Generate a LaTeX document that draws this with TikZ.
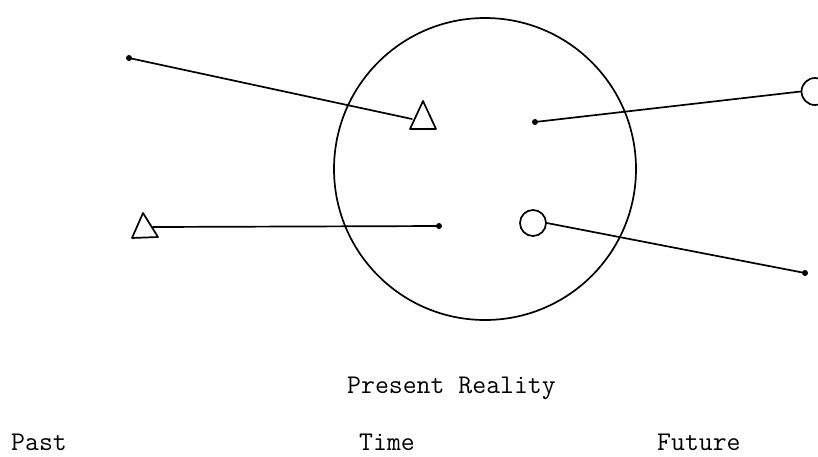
\documentclass[tikz,border=0pt]{standalone}
\usetikzlibrary{calc}
\begin{document}
\begin{tikzpicture}[x=1pt,y=-1pt,
  ink/.style={line width=1.7pt,line join=round,line cap=round},
  dotend/.style={circle,fill=black,inner sep=0pt,minimum size=6pt},
  ring/.style={circle,draw,line width=1.7pt,inner sep=0pt},
  label/.style={inner sep=0pt,anchor=base west,font=\ttfamily\fontsize{27}{30}\selectfont}]
\useasboundingbox (0,0) rectangle (818,456);
% big circle
\draw[ink] (485,169) circle (151);
% upper left: dot to triangle
\node[dotend] (d1) at (129,58) {};
\coordinate (t1) at (412,119);
\draw[ink] (d1.center) -- (t1);
\draw[ink] (423,101) -- (410,129) -- (436,129) -- cycle;
% upper right: dot to open circle
\node[dotend] (d2) at (535,122) {};
\node[ring,minimum size=27pt] (c1) at (815,91.5) {};
\draw[ink] (d2.center) -- (c1.west);
% lower left: triangle to dot
\draw[ink] (143,213) -- (132,238) -- (158,237) -- cycle;
\coordinate (t2) at (153,227);
\node[dotend] (d3) at (439,226) {};
\draw[ink] (t2) -- (d3.center);
% lower right: circle to dot
\node[ring,minimum size=26pt] (c2) at (533,223) {};
\node[dotend] (d4) at (805,273) {};
\draw[ink] (c2.east) -- (d4.center);
% texts
\node[label] (pr) at (347,393) {Present Reality};
\node[label] (past) at (11,450) {Past};
\node[label] (time) at (359,450) {Time};
\node[label] (fut) at (657,450) {Future};
\end{tikzpicture}
\end{document}
